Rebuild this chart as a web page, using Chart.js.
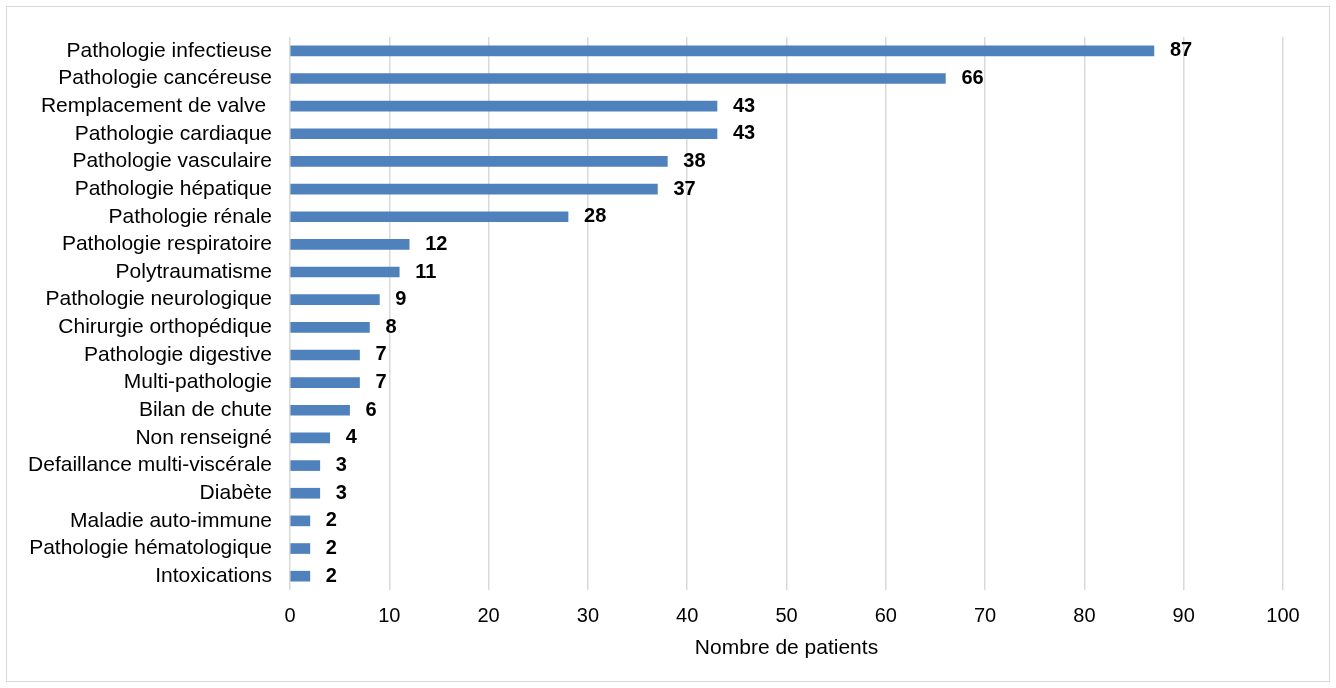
<!DOCTYPE html>
<html>
<head>
<meta charset="utf-8">
<script src="https://cdn.jsdelivr.net/npm/chart.js@4"></script>
<style>
  body { margin: 0; background: #fff; }
  #wrap { position: relative; width: 1336px; height: 688px; }
  #cadre { position: absolute; left: 6px; top: 6px; width: 1322px; height: 674px; border: 1.5px solid #d9d9d9; pointer-events: none; }
</style>
</head>
<body>
<div id="wrap">
  <canvas id="graficoPatients" width="1336" height="688"></canvas>
  <div id="cadre"></div>
</div>
<script>
// Catégories et valeurs
var categories = [
  'Pathologie infectieuse', 'Pathologie cancéreuse', 'Remplacement de valve ',
  'Pathologie cardiaque', 'Pathologie vasculaire', 'Pathologie hépatique',
  'Pathologie rénale', 'Pathologie respiratoire', 'Polytraumatisme',
  'Pathologie neurologique', 'Chirurgie orthopédique', 'Pathologie digestive',
  'Multi-pathologie', 'Bilan de chute', 'Non renseigné',
  'Defaillance multi-viscérale', 'Diabète', 'Maladie auto-immune',
  'Pathologie hématologique', 'Intoxications'
];
var nombrePatients = [87, 66, 43, 43, 38, 37, 28, 12, 11, 9, 8, 7, 7, 6, 4, 3, 3, 2, 2, 2];
var axeMin = 0;
var axeMax = 100;
var axePas = 10;

// Étiquettes de valeur à droite des barres
const etiquettesValeurs = {
  id: 'etiquettesValeurs',
  afterDatasetsDraw(chart) {
    const ctx = chart.ctx;
    ctx.save();
    ctx.font = 'bold 20px "Liberation Sans", Arial, sans-serif';
    ctx.fillStyle = '#000';
    ctx.textAlign = 'left';
    ctx.textBaseline = 'middle';
    chart.getDatasetMeta(0).data.forEach((bar, i) => {
      ctx.fillText(String(chart.data.datasets[0].data[i]), bar.x + 16, bar.y);
    });
    ctx.restore();
  }
};

new Chart(document.getElementById('graficoPatients'), {
  type: 'bar',
  data: {
    labels: categories,
    datasets: [{
      data: nombrePatients,
      backgroundColor: '#4f81bd',
      barThickness: 10
    }]
  },
  options: {
    indexAxis: 'y',
    responsive: false,
    animation: false,
    layout: { padding: { top: 37, right: 53, bottom: 0, left: 0 } },
    plugins: {
      legend: { display: false },
      title: { display: false },
      tooltip: { enabled: false }
    },
    scales: {
      x: {
        min: axeMin,
        max: axeMax,
        ticks: {
          stepSize: axePas,
          color: '#000',
          padding: 14,
          font: { family: '"Liberation Sans", Arial, sans-serif', size: 20 }
        },
        grid: { color: '#d9d9d9', lineWidth: 1.5, drawTicks: false },
        border: { display: false },
        title: {
          display: true,
          text: 'Nombre de patients',
          color: '#000',
          padding: { top: 0, bottom: 27 },
          font: { family: '"Liberation Sans", Arial, sans-serif', size: 21 }
        },
        afterFit(scale) { scale.height = 98; }
      },
      y: {
        ticks: {
          color: '#000',
          padding: 18,
          autoSkip: false,
          font: { family: '"Liberation Sans", Arial, sans-serif', size: 21 }
        },
        grid: { display: false, drawTicks: false },
        border: { display: false },
        afterFit(scale) { scale.width = 290; }
      }
    }
  },
  plugins: [etiquettesValeurs]
});
</script>
</body>
</html>
